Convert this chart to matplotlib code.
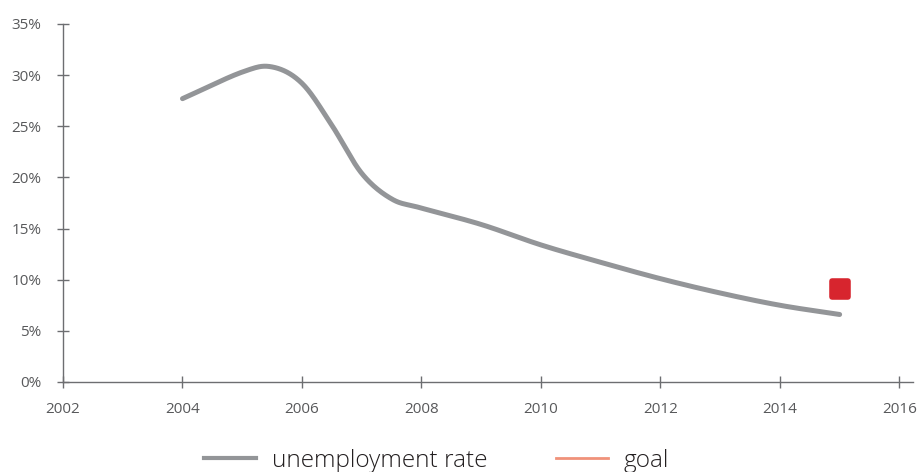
import numpy as np
import matplotlib.pyplot as plt
from matplotlib.markers import MarkerStyle
from matplotlib.lines import Line2D

plt.rcParams['font.family'] = ['Open Sans', 'DejaVu Sans']

# unemployment rate (%), half-yearly where the curve turns fast
years = [2004, 2005, 2005.5, 2006, 2006.5, 2007, 2007.5, 2008,
         2009, 2010, 2011, 2012, 2013, 2014, 2015]
rate = [27.7, 30.3, 30.8, 29.2, 25.1, 20.4, 17.9, 17.0,
        15.4, 13.4, 11.7, 10.1, 8.7, 7.5, 6.6]

goal_year = [2015]
goal_rate = [9.1]

xticks = [2002, 2004, 2006, 2008, 2010, 2012, 2014, 2016]
yticks = [0, 5, 10, 15, 20, 25, 30, 35]

line_col = '#939598'
goal_col = '#d7252e'
legend_goal_col = '#f0927a'
axis_col = '#6d6e71'


def smooth(x, y, n=30):
    # catmull-rom curve through the data points
    x = np.asarray(x, float)
    y = np.asarray(y, float)
    px = np.concatenate([[2 * x[0] - x[1]], x, [2 * x[-1] - x[-2]]])
    py = np.concatenate([[2 * y[0] - y[1]], y, [2 * y[-1] - y[-2]]])
    xs, ys = [], []
    t = np.linspace(0, 1, n, endpoint=False)
    for i in range(1, len(px) - 2):
        for p, out in ((px, xs), (py, ys)):
            p0, p1, p2, p3 = p[i - 1], p[i], p[i + 1], p[i + 2]
            out.append(0.5 * ((2 * p1) + (-p0 + p2) * t
                              + (2 * p0 - 5 * p1 + 4 * p2 - p3) * t ** 2
                              + (-p0 + 3 * p1 - 3 * p2 + p3) * t ** 3))
    xs.append([x[-1]])
    ys.append([y[-1]])
    return np.concatenate(xs), np.concatenate(ys)


fig = plt.figure(figsize=(9.2, 4.72), dpi=100)
ax = fig.add_axes([0.0685, 0.1907, 0.924, 0.7585])

sx, sy = smooth(years, rate)
ax.plot(sx, sy, color=line_col, lw=3.6, solid_capstyle='round', zorder=3)
ax.plot(goal_year, goal_rate, linestyle='none',
        marker=MarkerStyle('s', joinstyle='round'), markersize=11,
        markeredgewidth=4, color=goal_col, mec=goal_col, zorder=4)

ax.set_xlim(2002, 2016.23)
ax.set_ylim(0, 35)
ax.set_xticks(xticks)
ax.set_yticks(yticks)
ax.set_yticklabels([f'{v}%' for v in yticks])

for s in ['top', 'right']:
    ax.spines[s].set_visible(False)
for s in ['left', 'bottom']:
    ax.spines[s].set_color(axis_col)
    ax.spines[s].set_linewidth(1.0)
ax.tick_params(direction='inout', length=9, width=1, color=axis_col,
               labelcolor='#58595b', labelsize=11)
ax.tick_params(axis='y', pad=11)
ax.tick_params(axis='x', pad=10)

handles = [Line2D([], [], color=line_col, lw=3),
           Line2D([], [], color=legend_goal_col, lw=2)]
fig.legend(handles, ['unemployment rate', 'goal'], loc='center',
           bbox_to_anchor=(0.4745, 0.024), ncol=2, frameon=False,
           prop={'size': 17.6, 'weight': 'light'},
           handlelength=2.13, handletextpad=0.62,
           columnspacing=2.83, labelcolor='#231f20')

fig.savefig('out.png', dpi=100)
